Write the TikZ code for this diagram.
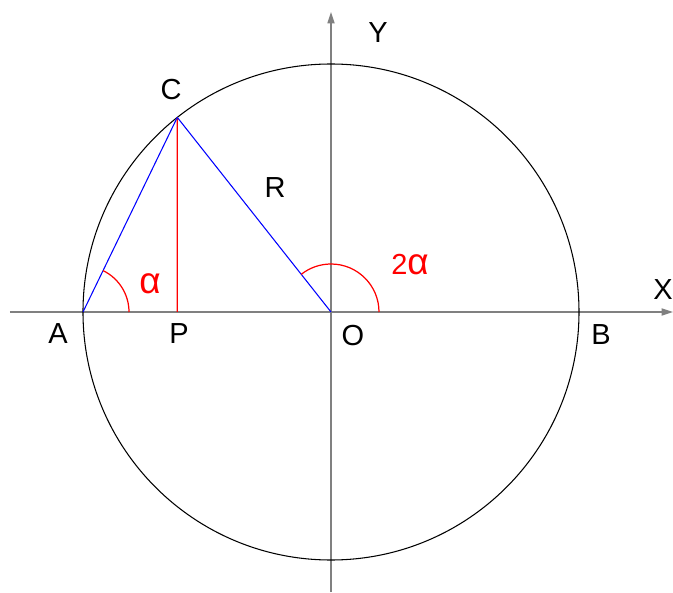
\documentclass[tikz,border=0pt]{standalone}
\usepackage{fontspec}
\setmainfont{Liberation Sans}
\usetikzlibrary{arrows.meta}
\definecolor{AxisGray}{RGB}{128,128,128}

\begin{document}
\begin{tikzpicture}[
    font=\fontsize{16.5}{18}\selectfont,
    axis/.style={
        draw=AxisGray,
        line width=0.9pt,
        -{Triangle[length=6.5pt,width=4pt]}
    },
    chord/.style={
        draw=blue,
        line width=0.6pt
    },
    redline/.style={
        draw=red,
        line width=0.7pt
    },
    lbl/.style={
        inner sep=0pt
    },
    anglbl/.style={
        inner sep=0pt,
        text=red
    }
]

\useasboundingbox (-6.62,-5.6) rectangle (6.84,6.24);

% points
\coordinate (O) at (0,0);
\coordinate (A) at (-4.96,0);
\coordinate (B) at (4.96,0);
\coordinate (C) at (128.3:4.96);
\coordinate (P) at (-3.074,0);
\coordinate (xs) at (-6.42,0);
\coordinate (xe) at (6.84,0);
\coordinate (ys) at (0,-5.6);
\coordinate (ye) at (0,6.0);

% axes and circle
\draw[axis] (xs) -- (xe);
\draw[axis] (ys) -- (ye);
\draw[line width=0.6pt] (O) circle (4.96);

% triangle
\draw[redline, red] (C) -- (P);
\draw[chord] (A) -- (C);
\draw[chord] (C) -- (O);

% angles
\draw[redline] (A) ++(0.92,0) arc (0:64.15:0.92);
\draw[redline] (O) ++(0.96,0) arc (0:128.3:0.96);

% labels
\node[lbl] (lA) at (-5.46,-0.44) {A};
\node[lbl] (lP) at (-3.04,-0.44) {P};
\node[lbl] (lO) at (0.44,-0.48) {O};
\node[lbl] (lB) at (5.40,-0.46) {B};
\node[lbl] (lX) at (6.64,0.44) {X};
\node[lbl] (lY) at (0.94,5.58) {Y};
\node[lbl] (lC) at (-3.20,4.44) {C};
\node[lbl] (lR) at (-1.12,2.48) {R};
\node[anglbl] (alpha) at (-3.62,0.56) {\fontsize{21}{22}\selectfont α};
\node[anglbl] (twoalpha) at (1.58,0.94) {2\fontsize{21}{22}\selectfont α};

\end{tikzpicture}
\end{document}
